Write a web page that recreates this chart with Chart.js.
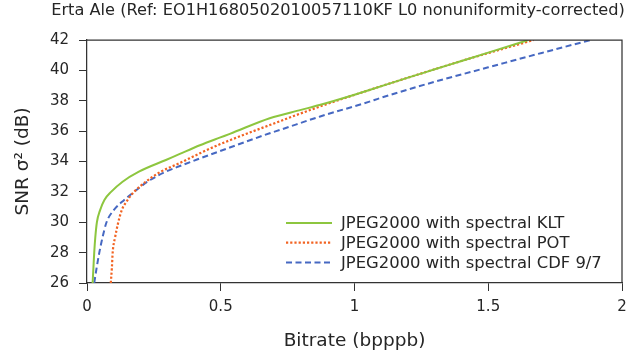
<!DOCTYPE html>
<html>
<head>
<meta charset="utf-8">
<script src="https://cdn.jsdelivr.net/npm/chart.js@4.4.1/dist/chart.umd.min.js"></script>
<style>
html, body { margin: 0; padding: 0; background: #fff; }
</style>
</head>
<body>
<canvas id="snrChart" width="629" height="358"></canvas>
<script>
// === Data ===
const chartTitle = 'Erta Ale (Ref: EO1H1680502010057110KF L0 nonuniformity-corrected)';
const seriesLabels = [
    'JPEG2000 with spectral KLT',
    'JPEG2000 with spectral POT',
    'JPEG2000 with spectral CDF 9/7'
];

const kltRate = [0.021, 0.024, 0.027, 0.031, 0.037, 0.049, 0.065, 0.090, 0.133, 0.194, 0.295, 0.347, 0.422, 0.496, 0.534, 0.683, 0.800, 0.869, 1.000, 1.056, 1.200, 1.300, 1.400, 1.500, 1.650];
const kltSnr  = [26.0, 27.0, 28.0, 29.0, 30.0, 30.8, 31.47, 32.0, 32.67, 33.33, 34.1, 34.5, 35.07, 35.57, 35.82, 36.85, 37.4, 37.72, 38.4, 38.71, 39.52, 40.07, 40.62, 41.17, 42.0];

const potRate = [0.089, 0.093, 0.096, 0.105, 0.117, 0.130, 0.152, 0.176, 0.220, 0.276, 0.347, 0.422, 0.496, 0.534, 0.683, 0.869, 1.056, 1.200, 1.400, 1.670];
const potSnr  = [26.0, 27.0, 28.0, 29.0, 30.0, 30.8, 31.47, 32.0, 32.67, 33.33, 33.9, 34.54, 35.13, 35.4, 36.4, 37.61, 38.71, 39.52, 40.62, 42.0];

const cdfRate = [0.027, 0.036, 0.046, 0.058, 0.073, 0.100, 0.139, 0.176, 0.226, 0.295, 0.347, 0.422, 0.496, 0.534, 0.683, 0.720, 0.869, 1.056, 1.093, 1.300, 1.500, 1.700, 1.883];
const cdfSnr  = [26.0, 27.0, 28.0, 29.0, 30.0, 30.8, 31.47, 32.0, 32.67, 33.33, 33.7, 34.2, 34.68, 34.92, 35.86, 36.07, 36.95, 37.94, 38.16, 39.25, 40.2, 41.15, 42.0];

const xTicks = [0, 0.5, 1, 1.5, 2];
const yTicks = [26, 28, 30, 32, 34, 36, 38, 40, 42];

function toPoints(rates, snrs) {
    return rates.map((r, i) => ({ x: r, y: snrs[i] }));
}

const axisColor = '#333333';
const textColor = '#262626';
const fontFamily = '"DejaVu Sans", sans-serif';

// title drawn above the plot
const titlePlugin = {
    id: 'plotTitle',
    afterDraw(chart) {
        const ctx = chart.ctx;
        ctx.save();
        ctx.font = '16.2px ' + fontFamily;
        ctx.fillStyle = textColor;
        ctx.textAlign = 'center';
        ctx.textBaseline = 'middle';
        ctx.fillText(chartTitle, 338, 11);
        ctx.restore();
    }
};

// top and right spines
const framePlugin = {
    id: 'frame',
    afterDatasetsDraw(chart) {
        const { ctx, chartArea: a } = chart;
        ctx.save();
        ctx.strokeStyle = axisColor;
        ctx.lineWidth = 1.25;
        ctx.beginPath();
        ctx.moveTo(a.left, a.top);
        ctx.lineTo(a.right, a.top);
        ctx.lineTo(a.right, a.bottom);
        ctx.stroke();
        ctx.restore();
    }
};

// legend inside the plot, lower right, no box
const legendPlugin = {
    id: 'innerLegend',
    afterDraw(chart) {
        const ctx = chart.ctx;
        ctx.save();
        ctx.font = '16.4px ' + fontFamily;
        ctx.textBaseline = 'middle';
        chart.data.datasets.forEach((ds, i) => {
            const y = 223 + i * 19.7;
            ctx.strokeStyle = ds.borderColor;
            ctx.lineWidth = ds.borderWidth;
            ctx.setLineDash(ds.borderDash || []);
            ctx.beginPath();
            ctx.moveTo(286, y);
            ctx.lineTo(332, y);
            ctx.stroke();
            ctx.setLineDash([]);
            ctx.fillStyle = textColor;
            ctx.fillText(ds.label, 341, y + 1);
        });
        ctx.restore();
    }
};

const ctx = document.getElementById('snrChart').getContext('2d');
new Chart(ctx, {
    type: 'line',
    data: {
        datasets: [{
            label: seriesLabels[0],
            data: toPoints(kltRate, kltSnr),
            borderColor: '#8dc63f',
            borderWidth: 2,
            pointRadius: 0,
            cubicInterpolationMode: 'monotone'
        }, {
            label: seriesLabels[1],
            data: toPoints(potRate, potSnr),
            borderColor: '#f26322',
            borderWidth: 2.2,
            borderDash: [2.2, 2],
            pointRadius: 0,
            cubicInterpolationMode: 'monotone'
        }, {
            label: seriesLabels[2],
            data: toPoints(cdfRate, cdfSnr),
            borderColor: '#4668c2',
            borderWidth: 2,
            borderDash: [6, 3.5],
            pointRadius: 0,
            cubicInterpolationMode: 'monotone'
        }]
    },
    options: {
        responsive: false,
        animation: false,
        layout: { padding: { top: 40, right: 7, left: 0, bottom: 0 } },
        scales: {
            x: {
                type: 'linear',
                min: 0,
                max: 2,
                afterBuildTicks: (scale) => { scale.ticks = xTicks.map(v => ({ value: v })); },
                afterFit: (scale) => {
                    scale.height = 75;
                    scale.paddingLeft = 0;
                    scale.paddingRight = 0;
                },
                ticks: {
                    color: textColor,
                    font: { family: fontFamily, size: 15 },
                    padding: 7,
                    maxRotation: 0,
                    callback: (value) => String(value)
                },
                grid: {
                    drawOnChartArea: false,
                    drawTicks: true,
                    tickLength: 8,
                    color: axisColor
                },
                border: { display: true, color: axisColor, width: 1.25 },
                title: {
                    display: true,
                    text: 'Bitrate (bpppb)',
                    color: textColor,
                    font: { family: fontFamily, size: 18.5 },
                    padding: { top: 0, bottom: 6 }
                }
            },
            y: {
                min: 26,
                max: 42,
                afterBuildTicks: (scale) => { scale.ticks = yTicks.map(v => ({ value: v })); },
                afterFit: (scale) => { scale.width = 87; },
                ticks: {
                    color: textColor,
                    font: { family: fontFamily, size: 15 },
                    padding: 10,
                    callback: (value) => String(value)
                },
                grid: {
                    drawOnChartArea: false,
                    drawTicks: true,
                    tickLength: 8,
                    color: axisColor
                },
                border: { display: true, color: axisColor, width: 1.25 },
                title: {
                    display: true,
                    text: 'SNR σ² (dB)',
                    color: textColor,
                    font: { family: fontFamily, size: 18.5 },
                    padding: { top: 12, bottom: 0 }
                }
            }
        },
        plugins: {
            legend: { display: false },
            tooltip: { enabled: false }
        }
    },
    plugins: [titlePlugin, framePlugin, legendPlugin]
});
</script>
</body>
</html>
